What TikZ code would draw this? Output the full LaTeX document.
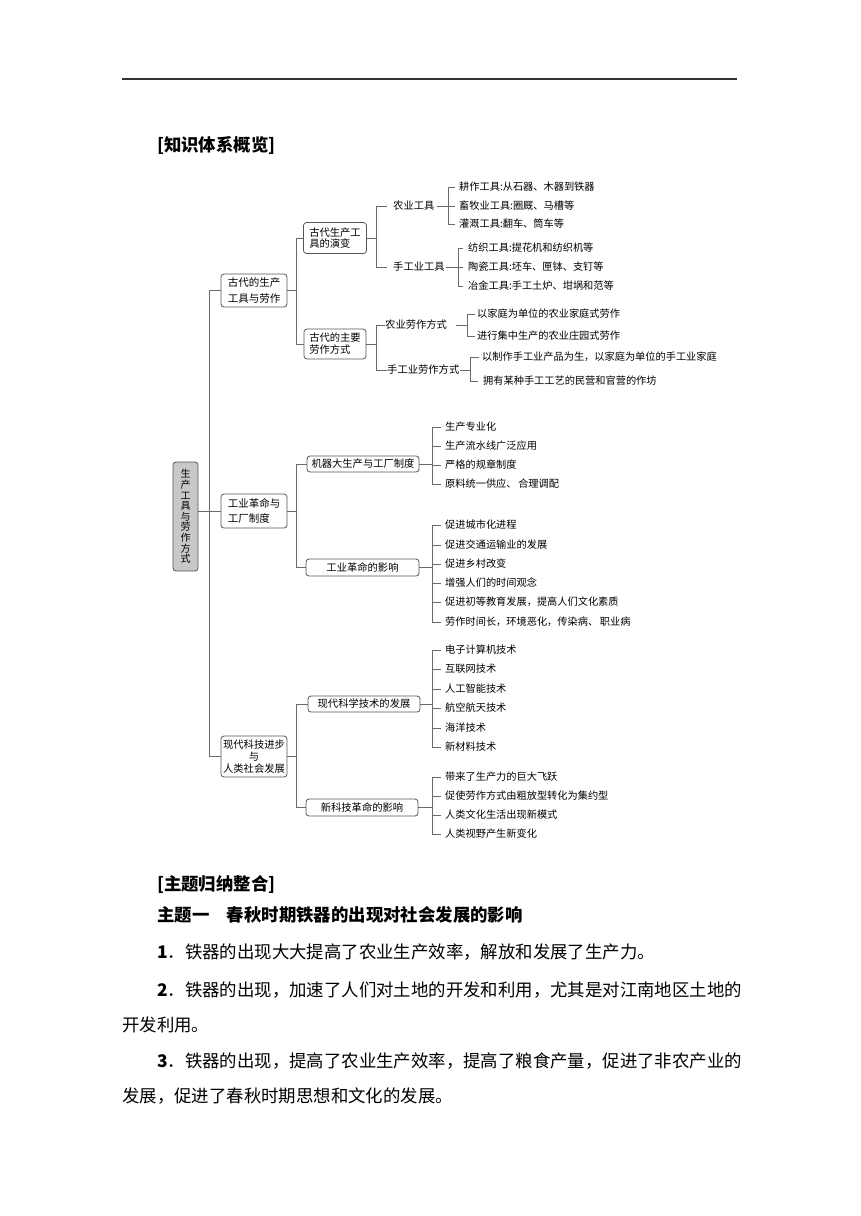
\documentclass[tikz,border=0pt]{standalone}
\usepackage{fontspec}
\setmainfont{Noto Sans CJK SC}
\definecolor{linec}{HTML}{6A6A6A}
\definecolor{boxc}{HTML}{555555}
\definecolor{rootc}{HTML}{C8C8C8}
\definecolor{rulec}{HTML}{333333}
\begin{document}
\begin{tikzpicture}[x=1pt,y=-1pt,
  box/.style={draw=boxc, rounded corners=3pt, line width=0.8pt, inner sep=0pt, align=left, font=\fontsize{10.3}{12}\selectfont},
  conn/.style={draw=linec, line width=0.8pt},
  item/.style={anchor=west, inner sep=0pt, font=\fontsize{10.2}{12}\selectfont},
  sub/.style={anchor=west, inner sep=0pt, font=\fontsize{10.3}{12}\selectfont},
  para/.style={anchor=west, inner sep=0pt, font=\fontsize{17.4}{20}\selectfont},
  head/.style={anchor=west, inner sep=0pt, font=\fontsize{17.4}{20}\selectfont\bfseries}]
\useasboundingbox (0,0) rectangle (860,1216);
\fill[white] (0,0) rectangle (860,1216);

% top rule
\draw[rulec, line width=1.4pt] (122,79) -- (737,79);

\node[head] (h1) at (157,145) {[知识体系概览]};

% root
\node[box, fill=rootc, minimum width=25pt, minimum height=109pt, align=center, font=\fontsize{10}{10.6}\selectfont] (root) at (185.5,516.5)
  {生\\产\\工\\具\\与\\劳\\作\\方\\式};

% level 1
\node[box, minimum width=66pt, minimum height=33pt, font=\fontsize{10.5}{15.5}\selectfont] (A1) at (254,290.5) {古代的生产\\工具与劳作};
\node[box, minimum width=66pt, minimum height=34pt, font=\fontsize{10.5}{15.5}\selectfont] (A2) at (254,511) {工业革命与\\工厂制度};
\node[box, minimum width=66pt, minimum height=41pt, align=center, font=\fontsize{10.3}{12.4}\selectfont] (A3) at (254,756.5) {现代科技进步\\与\\人类社会发展};

% level 2
\node[box, minimum width=63pt, minimum height=31pt, font=\fontsize{10.3}{11.5}\selectfont] (B1) at (335,238) {古代生产工\\具的演变};
\node[box, minimum width=62pt, minimum height=30pt, font=\fontsize{10.3}{12}\selectfont] (B2) at (335,344) {古代的主要\\劳作方式};
\node[box, minimum width=112pt, minimum height=16pt] (B3) at (363,464) {机器大生产与工厂制度};
\node[box, minimum width=113pt, minimum height=17pt] (B4) at (362.5,567.5) {工业革命的影响};
\node[box, minimum width=112pt, minimum height=16pt] (B5) at (364,704) {现代科学技术的发展};
\node[box, minimum width=112pt, minimum height=17pt] (B6) at (362,807.5) {新科技革命的影响};

% trunk
\coordinate (t) at (209,0);
\draw[conn] (A1.west) -- (A1.west -| t) -- (A3.west -| t) -- (A3.west);
\draw[conn] (root.east |- A2.west) -- (A2.west);

% level-1 to level-2 branches
\coordinate (v) at (296,0);
\draw[conn] (A1.east) -- (A1.east -| v);
\draw[conn] (B1.west) -- (B1.west -| v) -- (B2.west -| v) -- (B2.west);
\draw[conn] (A2.east) -- (A2.east -| v);
\draw[conn] (B3.west) -- (B3.west -| v) -- (B4.west -| v) -- (B4.west);
\draw[conn] (A3.east) -- (A3.east -| v);
\draw[conn] (B5.west) -- (B5.west -| v) -- (B6.west -| v) -- (B6.west);

% level 3 under B1 and B2
\node[sub] (N1) at (393,206) {农业工具};
\node[sub] (N2) at (393,267) {手工业工具};
\node[sub] (N3) at (385,325) {农业劳作方式};
\node[sub] (N4) at (387,370) {手工业劳作方式};
\coordinate (w) at (376,0);
\draw[conn] (B1.east) -- (B1.east -| w);
\draw[conn] ([xshift=-6pt]N1.west) -- (N1.west -| w) -- (N2.west -| w) -- ([xshift=-6pt]N2.west);
\draw[conn] (B2.east) -- (B2.east -| w);
\draw[conn] (N3.west) -- (N3.west -| w) -- (N4.west -| w) -- (N4.west);

% items: agricultural tools
\node[item] (i11) at (459,187) {耕作工具:从石器、木器到铁器};
\node[item] (i12) at (459,206) {畜牧业工具:圈厩、马槽等};
\node[item] (i13) at (459,224) {灌溉工具:翻车、筒车等};
\coordinate (b1) at (448,0);
\draw[conn] ([xshift=2pt]N1.east) -- (N1.east -| b1);
\draw[conn] ([xshift=-4pt]i11.west) -- (i11.west -| b1) -- (i13.west -| b1) -- ([xshift=-4pt]i13.west);
\draw[conn] (i12.west -| b1) -- ([xshift=-4pt]i12.west);

% items: handicraft tools
\node[item] (i21) at (468,248) {纺织工具:提花机和纺织机等};
\node[item] (i22) at (468,267) {陶瓷工具:坯车、匣钵、支钉等};
\node[item] (i23) at (468,286) {冶金工具:手工土炉、坩埚和范等};
\coordinate (b2) at (458,0);
\draw[conn] ([xshift=1pt]N2.east) -- (N2.east -| b2);
\draw[conn] ([xshift=-5pt]i21.west) -- (i21.west -| b2) -- (i23.west -| b2) -- ([xshift=-5pt]i23.west);
\draw[conn] (i22.west -| b2) -- ([xshift=-5pt]i22.west);

% items: agricultural labour
\node[item] (i31) at (477,314) {以家庭为单位的农业家庭式劳作};
\node[item] (i32) at (477,336) {进行集中生产的农业庄园式劳作};
\coordinate (b3) at (467,0);
\draw[conn] ([xshift=9pt]N3.east) -- (N3.east -| b3);
\draw[conn] ([xshift=-2pt]i31.west) -- (i31.west -| b3) -- (i32.west -| b3) -- ([xshift=-2pt]i32.west);

% items: handicraft labour
\node[item] (i41) at (482,357) {以制作手工业产品为生，以家庭为单位的手工业家庭};
\node[item] (i42) at (483,381) {拥有某种手工工艺的民营和官营的作坊};
\coordinate (b4) at (470,0);
\draw[conn] (N4.east) -- (N4.east -| b4);
\draw[conn] ([xshift=-3pt]i41.west) -- (i41.west -| b4) -- (i42.west -| b4) -- ([xshift=-5pt]i42.west);

% items: B3
\coordinate (b) at (432,0);
\node[item] (j1) at (445,427) {生产专业化};
\node[item] (j2) at (445,446) {生产流水线广泛应用};
\node[item] (j3) at (445,465) {严格的规章制度};
\node[item] (j4) at (445,484) {原料统一供应、\,合理调配};
\draw[conn] (B3.east) -- (B3.east -| b);
\draw[conn] ([xshift=-4pt]j1.west) -- (j1.west -| b) -- (j4.west -| b) -- ([xshift=-4pt]j4.west);
\foreach \n in {j2,j3} \draw[conn] (\n.west -| b) -- ([xshift=-4pt]\n.west);

% items: B4
\node[item] (k1) at (445,525) {促进城市化进程};
\node[item] (k2) at (445,545) {促进交通运输业的发展};
\node[item] (k3) at (445,564) {促进乡村改变};
\node[item] (k4) at (445,583) {增强人们的时间观念};
\node[item] (k5) at (445,602) {促进初等教育发展，提高人们文化素质};
\node[item] (k6) at (445,622) {劳作时间长，环境恶化，传染病、\,职业病};
\draw[conn] (B4.east) -- (B4.east -| b);
\draw[conn] ([xshift=-4pt]k1.west) -- (k1.west -| b) -- (k6.west -| b) -- ([xshift=-4pt]k6.west);
\foreach \n in {k2,k3,k4,k5} \draw[conn] (\n.west -| b) -- ([xshift=-4pt]\n.west);

% items: B5
\node[item] (m1) at (445,650) {电子计算机技术};
\node[item] (m2) at (445,669) {互联网技术};
\node[item] (m3) at (445,689) {人工智能技术};
\node[item] (m4) at (445,708) {航空航天技术};
\node[item] (m5) at (445,728) {海洋技术};
\node[item] (m6) at (445,747) {新材料技术};
\draw[conn] (B5.east) -- (B5.east -| b);
\draw[conn] ([xshift=-4pt]m1.west) -- (m1.west -| b) -- (m6.west -| b) -- ([xshift=-4pt]m6.west);
\foreach \n in {m2,m3,m4,m5} \draw[conn] (\n.west -| b) -- ([xshift=-4pt]\n.west);

% items: B6
\node[item] (n1) at (445,777) {带来了生产力的巨大飞跃};
\node[item] (n2) at (445,796) {促使劳作方式由粗放型转化为集约型};
\node[item] (n3) at (445,815) {人类文化生活出现新模式};
\node[item] (n4) at (445,834) {人类视野产生新变化};
\draw[conn] (B6.east) -- (B6.east -| b);
\draw[conn] ([xshift=-4pt]n1.west) -- (n1.west -| b) -- (n4.west -| b) -- ([xshift=-4pt]n4.west);
\foreach \n in {n2,n3} \draw[conn] (\n.west -| b) -- ([xshift=-4pt]\n.west);

% text below
\node[head] (h2) at (157,885) {[主题归纳整合]};
\node[head] (h3) at (157,915) {主题一\hspace{17.4pt}春秋时期铁器的出现对社会发展的影响};
\node[para] (p1) at (157,952) {\textbf{1}．铁器的出现大大提高了农业生产效率，解放和发展了生产力。};
\node[para] (p2) at (157,990) {\textbf{2}．铁器的出现，加速了人们对土地的开发和利用，尤其是对江南地区土地的};
\node[para] (p3) at (122,1025) {开发利用。};
\node[para] (p4) at (157,1061) {\textbf{3}．铁器的出现，提高了农业生产效率，提高了粮食产量，促进了非农产业的};
\node[para] (p5) at (122,1096) {发展，促进了春秋时期思想和文化的发展。};
\end{tikzpicture}
\end{document}
